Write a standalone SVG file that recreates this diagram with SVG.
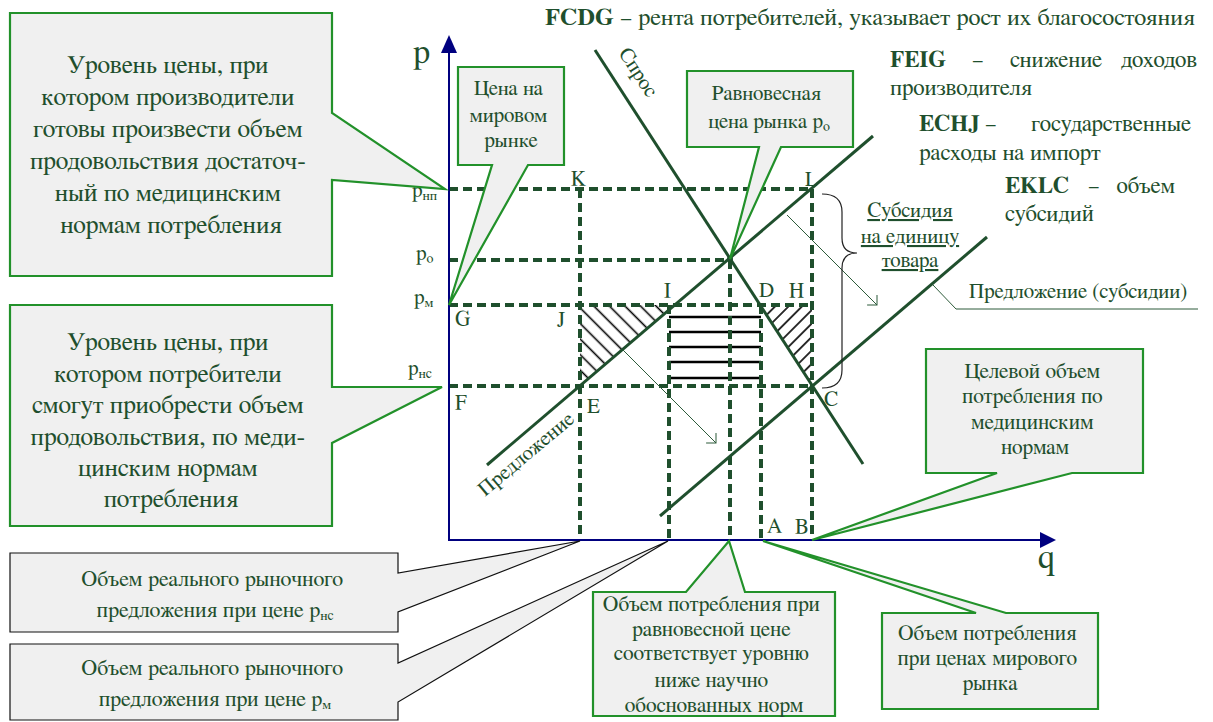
<svg xmlns="http://www.w3.org/2000/svg" width="1213" height="722" viewBox="0 0 1213 722">
<defs>
<style>
.t{font-family:FreeSerif,"Liberation Serif","DejaVu Serif",serif;fill:#1f4f2d}
.c{text-anchor:middle}
.lbl{font-size:21px}
.box{fill:#f0f0f0;stroke:#22912a;stroke-width:2.2;stroke-linejoin:miter}
.boxk{fill:#f0f0f0;stroke:#111;stroke-width:1.2}
.dash{stroke:#1f4f2d;stroke-width:4;stroke-dasharray:9 5;fill:none}
.curve{stroke:#1f4f2d;stroke-width:3;fill:none}
.axis{stroke:#00007f;stroke-width:2;fill:none}
.thin{stroke:#2d5b3a;stroke-width:1;fill:none}
.stripe{stroke:#000;stroke-width:2.5}
.b{font-weight:bold}
</style>
<marker id="openhead" markerWidth="20" markerHeight="20" refX="10" refY="10" orient="auto" markerUnits="userSpaceOnUse">
<path d="M3,3 L10,10 L3,17" fill="none" stroke="#2d5b3a" stroke-width="1"/>
</marker>
<pattern id="hBack" width="11" height="11" patternUnits="userSpaceOnUse" patternTransform="rotate(-45)">
<line x1="5.5" y1="0" x2="5.5" y2="11" stroke="#000" stroke-width="1.6"/>
</pattern>
<pattern id="hFwd" width="9.5" height="9.5" patternUnits="userSpaceOnUse" patternTransform="rotate(45)">
<line x1="4.75" y1="0" x2="4.75" y2="9.5" stroke="#000" stroke-width="1.6"/>
</pattern>
</defs>
<rect width="1213" height="722" fill="#fff"/>

<g id="hatching">
<polygon points="580,305 675,305 580,386" fill="url(#hBack)"/>
<polygon points="759,305 812,305 812,386" fill="url(#hFwd)"/>
<g id="stripes">
<line class="stripe" x1="669" y1="317" x2="761" y2="317"/>
<line class="stripe" x1="669" y1="332" x2="761" y2="332"/>
<line class="stripe" x1="669" y1="347" x2="761" y2="347"/>
<line class="stripe" x1="669" y1="362" x2="761" y2="362"/>
<line class="stripe" x1="669" y1="378" x2="761" y2="378"/>
</g>
</g>

<g id="grid">
<line class="dash" x1="449" y1="189" x2="812" y2="189"/>
<line class="dash" x1="449" y1="260" x2="730" y2="260"/>
<line class="dash" x1="449" y1="305" x2="812" y2="305"/>
<line class="dash" x1="449" y1="386" x2="812" y2="386"/>
<line class="dash" x1="580" y1="189" x2="580" y2="540"/>
<line class="dash" x1="669" y1="305" x2="669" y2="540"/>
<line class="dash" x1="730" y1="260" x2="730" y2="540"/>
<line class="dash" x1="761" y1="305" x2="761" y2="540"/>
<line class="dash" x1="812" y1="189" x2="812" y2="540"/>
</g>

<g id="axes">
<line class="axis" x1="449" y1="541" x2="449" y2="50"/>
<polygon points="449,35 441,53 457,53" fill="#00007f"/>
<line class="axis" x1="448" y1="540" x2="1042" y2="540"/>
<polygon points="1056,540 1040,532 1040,548" fill="#00007f"/>
<text class="t" x="413" y="62" font-size="34">p</text>
<text class="t" x="1038" y="568" font-size="34">q</text>
</g>

<g id="curves">
<line id="demand" class="curve" x1="595" y1="50" x2="863" y2="464"/>
<line id="supply" class="curve" x1="487" y1="465" x2="873" y2="136"/>
<line id="supply-subsidy" class="curve" x1="660" y1="516" x2="987" y2="237"/>
<circle cx="730" cy="259" r="3" fill="#1f4f2d"/>
</g>

<g id="connectors">
<line class="thin" x1="787" y1="215" x2="877" y2="305" marker-end="url(#openhead)"/>
<line class="thin" x1="623" y1="350" x2="716" y2="443" marker-end="url(#openhead)"/>
<polyline class="thin" points="933,285 956,309 1198,309"/>
<path d="M822,194 Q842,194 842,212 V238 Q842,253 857,253 Q842,253 842,268 V370 Q842,388 822,388" fill="none" stroke="#222" stroke-width="1.2"/>
</g>

<g id="axis-labels" class="t lbl">
<text x="412" y="197">p<tspan font-size="14" dy="3">нп</tspan></text>
<text x="416" y="260">p<tspan font-size="14" dy="3">o</tspan></text>
<text x="414" y="304">p<tspan font-size="14" dy="3">м</tspan></text>
<text x="408" y="375">p<tspan font-size="14" dy="3">нс</tspan></text>
<text x="455" y="326">G</text>
<text x="455" y="409">F</text>
<text x="571" y="185">K</text>
<text x="805" y="186">L</text>
<text x="664" y="297">I</text>
<text x="759" y="297">D</text>
<text x="789" y="297">H</text>
<text x="557" y="326">J</text>
<text x="587" y="413">E</text>
<text x="824" y="406">C</text>
<text x="767" y="533">A</text>
<text x="795" y="533">B</text>
</g>

<g id="line-labels" class="t">
<text font-size="21" transform="translate(618,53) rotate(57)">Спрос</text>
<text font-size="21" transform="translate(485,497) rotate(-40)">Предложение</text>
<text font-size="21" x="969" y="298">Предложение (субсидии)</text>
<text class="c" font-size="21" x="910" y="217" text-decoration="underline">Субсидия</text>
<text class="c" font-size="21" x="910" y="243" text-decoration="underline">на единицу</text>
<text class="c" font-size="21" x="910" y="267" text-decoration="underline">товара</text>
</g>

<g id="legend" class="t" font-size="23">
<text x="545" y="25" textLength="650" lengthAdjust="spacingAndGlyphs"><tspan class="b">FCDG</tspan> – рента потребителей, указывает рост их благосостояния</text>
<text x="890" y="67" class="b">FEIG</text>
<text x="972" y="67">–</text>
<text x="1010" y="67">снижение</text>
<text x="1197" y="67" text-anchor="end">доходов</text>
<text x="890" y="95">производителя</text>
<text x="919" y="131" class="b">ECHJ</text>
<text x="985" y="131">–</text>
<text x="1191" y="131" text-anchor="end">государственные</text>
<text x="919" y="160">расходы на импорт</text>
<text x="1005" y="193" class="b">EKLC</text>
<text x="1088" y="193">–</text>
<text x="1175" y="193" text-anchor="end">объем</text>
<text x="1005" y="221">субсидий</text>
</g>

<g id="callout-producers">
<path class="box" d="M10,13 H332 V113 L445,189 L332,180 V276 H10 Z"/>
<text class="t c" font-size="25.5">
<tspan x="171" y="73">Уровень цены, при</tspan>
<tspan x="171" y="105">котором производители</tspan>
<tspan x="171" y="137">готовы произвести объем</tspan>
<tspan x="171" y="169">продовольствия достаточ-</tspan>
<tspan x="171" y="201">ный по медицинским</tspan>
<tspan x="171" y="233">нормам потребления</tspan>
</text>
</g>

<g id="callout-consumers">
<path class="box" d="M10,305 H332 V387 L442,387 L332,443 V526 H10 Z"/>
<text class="t c" font-size="25.5">
<tspan x="171" y="350">Уровень цены, при</tspan>
<tspan x="171" y="382">котором потребители</tspan>
<tspan x="171" y="413">смогут приобрести объем</tspan>
<tspan x="171" y="445">продовольствия, по меди-</tspan>
<tspan x="171" y="476">цинским нормам</tspan>
<tspan x="171" y="507">потребления</tspan>
</text>
</g>

<g id="callout-world-price">
<path class="box" d="M458,67 H564 V165 H528 L449,305 L492,165 H458 Z"/>
<text class="t c" font-size="21">
<tspan x="511" y="95">Цена на</tspan>
<tspan x="511" y="122">мировом</tspan>
<tspan x="511" y="147">рынке</tspan>
</text>
</g>

<g id="callout-equilibrium">
<path class="box" d="M687,71 H853 V147 H781 L730,259 L759,147 H687 Z"/>
<text class="t c" font-size="21">
<tspan x="769" y="100">Равновесная</tspan>
<tspan x="769" y="128">цена рынка p<tspan font-size="14" dy="3">o</tspan></tspan>
</text>
</g>

<g id="callout-target">
<path class="box" d="M926,349 H1143 V473 H1072 L812,540 L997,473 H926 Z"/>
<text class="t c" font-size="21.5">
<tspan x="1035" y="378">Целевой объем</tspan>
<tspan x="1035" y="403">потребления по</tspan>
<tspan x="1035" y="429">медицинским</tspan>
<tspan x="1035" y="454">нормам</tspan>
</text>
</g>

<g id="callout-equilibrium-volume">
<path class="box" d="M593,592 H686 L729,541 L745,592 H835 V716 H593 Z"/>
<text class="t c" font-size="21.5">
<tspan x="714" y="611">Объем потребления при</tspan>
<tspan x="714" y="636">равновесной цене</tspan>
<tspan x="714" y="660">соответствует уровню</tspan>
<tspan x="714" y="687">ниже научно</tspan>
<tspan x="714" y="712">обоснованных норм</tspan>
</text>
</g>

<g id="callout-world-volume">
<path class="box" d="M882,613 H976 L763,541 L1006,613 H1098 V709 H882 Z"/>
<text class="t c" font-size="21.5">
<tspan x="990" y="640">Объем потребления</tspan>
<tspan x="990" y="665">при ценах мирового</tspan>
<tspan x="990" y="690">рынка</tspan>
</text>
</g>

<g id="callout-supply-pns">
<path class="boxk" d="M10,553 H398 V573 L580,541 L398,612 V632 H10 Z"/>
<text class="t c" font-size="22">
<tspan x="215" y="586">Объем реального рыночного</tspan>
<tspan x="215" y="617">предложения при цене p<tspan font-size="14" dy="3">нс</tspan></tspan>
</text>
</g>

<g id="callout-supply-pm">
<path class="boxk" d="M10,644 H398 V663 L668,541 L398,702 V720 H10 Z"/>
<text class="t c" font-size="22">
<tspan x="215" y="675">Объем реального рыночного</tspan>
<tspan x="215" y="706">предложения при цене p<tspan font-size="14" dy="3">м</tspan></tspan>
</text>
</g>
</svg>
